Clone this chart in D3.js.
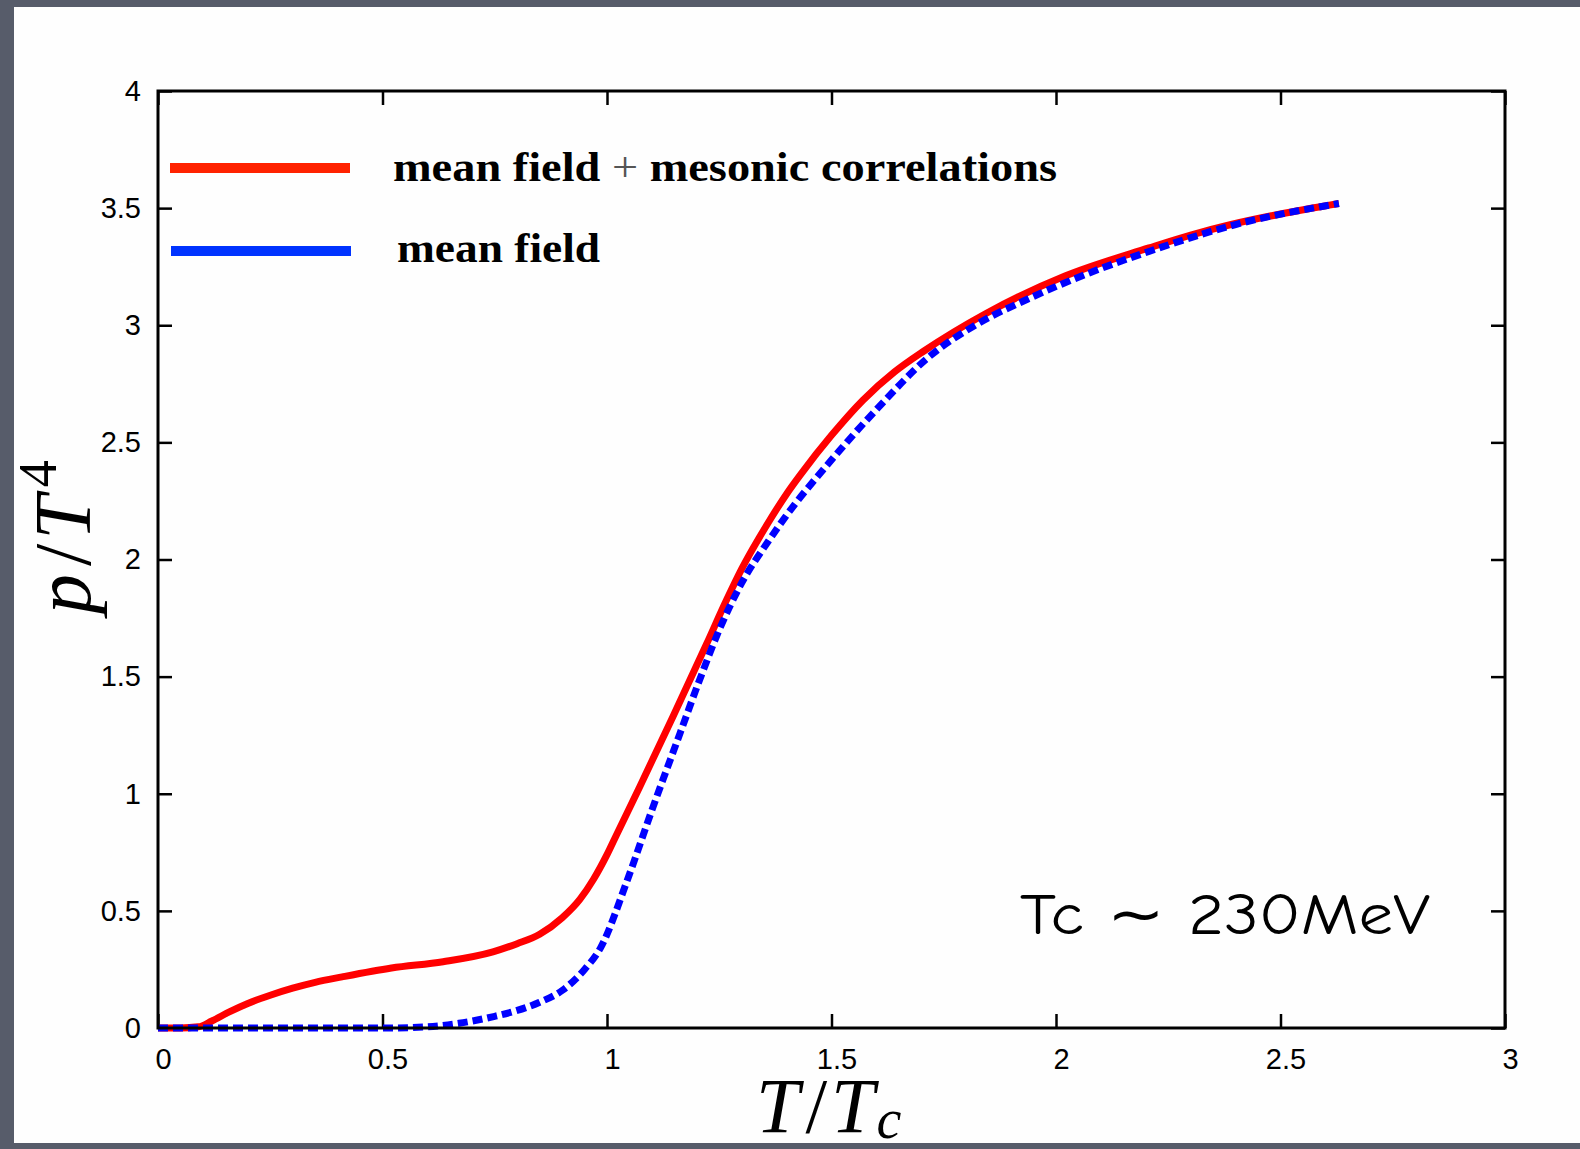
<!DOCTYPE html>
<html>
<head>
<meta charset="utf-8">
<script src="https://cdn.jsdelivr.net/npm/d3@7"></script>
<style>
  html, body { margin: 0; padding: 0; background: #575c6a; }
  svg { display: block; }
</style>
</head>
<body>
<svg id="chart" width="1580" height="1149"></svg>
<script>
// values
const xTicks = [0, 0.5, 1, 1.5, 2, 2.5, 3];
const yTicks = [0, 0.5, 1, 1.5, 2, 2.5, 3, 3.5, 4];

const fullT = [0, 0.05, 0.09, 0.12, 0.16, 0.20, 0.25, 0.30, 0.35, 0.41, 0.52, 0.635, 0.746, 0.80, 0.85, 0.90, 0.94, 0.97, 1.0, 1.02, 1.073, 1.147, 1.222, 1.267, 1.30, 1.36, 1.40, 1.434, 1.50, 1.57, 1.64, 1.706, 1.844, 2.02, 2.207, 2.30, 2.39, 2.50, 2.63];
const fullP = [0, 0, 0.005, 0.03, 0.07, 0.105, 0.14, 0.17, 0.195, 0.218, 0.256, 0.283, 0.325, 0.36, 0.40, 0.47, 0.55, 0.635, 0.74, 0.82, 1.03, 1.33, 1.64, 1.83, 1.96, 2.16, 2.28, 2.37, 2.53, 2.68, 2.80, 2.89, 3.05, 3.21, 3.33, 3.385, 3.43, 3.475, 3.52];

const mfT = [0, 0.52, 0.60, 0.67, 0.75, 0.80, 0.85, 0.90, 0.95, 0.985, 1.045, 1.10, 1.163, 1.207, 1.25, 1.30, 1.36, 1.42, 1.48, 1.60, 1.717, 1.82, 1.935, 2.07, 2.207, 2.40, 2.63];
const mfP = [0, 0, 0.005, 0.02, 0.05, 0.075, 0.11, 0.16, 0.25, 0.34, 0.63, 0.93, 1.26, 1.49, 1.70, 1.90, 2.08, 2.24, 2.38, 2.64, 2.865, 3.00, 3.11, 3.22, 3.315, 3.43, 3.52];

const legendLabels = ["mean field", "mean field"];
const annotation = "Tc \u223C 230MeV";

const svg = d3.select("#chart");
const margin = { top: 91, right: 75, bottom: 121, left: 158 };
const width = 1580 - margin.left - margin.right;
const height = 1149 - margin.top - margin.bottom;

// white slide area
svg.append("rect")
  .attr("x", 14).attr("y", 7)
  .attr("width", 1580 - 14).attr("height", 1143 - 7)
  .attr("fill", "#fefefe");

const chartArea = svg.append("g")
  .attr("transform", `translate(${margin.left},${margin.top})`);

const x = d3.scaleLinear().domain([0, 3]).range([0, width]);
const y = d3.scaleLinear().domain([0, 4]).range([height, 0]);

const tickLen = 14;
const tickFont = "'Liberation Sans', Arial, Helvetica, sans-serif";

function styleAxis(g) {
  g.select(".domain").remove();
  g.selectAll(".tick line").attr("stroke", "#000").attr("stroke-width", 2.5);
  g.selectAll(".tick text")
    .attr("fill", "#000")
    .style("font-family", tickFont)
    .style("font-size", "29px");
}

chartArea.append("g")
  .attr("transform", `translate(0,${height})`)
  .call(d3.axisBottom(x).tickValues(xTicks).tickSizeInner(-tickLen).tickSizeOuter(0).tickPadding(20).tickFormat(d3.format("")))
  .call(styleAxis)
  .selectAll(".tick text").attr("dx", 5);

chartArea.append("g")
  .call(d3.axisTop(x).tickValues(xTicks).tickSizeInner(-tickLen).tickSizeOuter(0).tickFormat(""))
  .call(styleAxis);

chartArea.append("g")
  .call(d3.axisLeft(y).tickValues(yTicks).tickSizeInner(-tickLen).tickSizeOuter(0).tickPadding(17).tickFormat(d3.format("")))
  .call(styleAxis);

chartArea.append("g")
  .attr("transform", `translate(${width},0)`)
  .call(d3.axisRight(y).tickValues(yTicks).tickSizeInner(-tickLen).tickSizeOuter(0).tickFormat(""))
  .call(styleAxis);

// curves
const line = d3.line()
  .x(d => x(d[0]))
  .y(d => y(d[1]))
  .curve(d3.curveMonotoneX);

chartArea.append("path")
  .datum(d3.zip(fullT, fullP))
  .attr("fill", "none")
  .attr("stroke", "#ff0000")
  .attr("stroke-width", 7)
  .attr("d", line);

chartArea.append("path")
  .datum(d3.zip(mfT, mfP))
  .attr("fill", "none")
  .attr("stroke", "#0000ff")
  .attr("stroke-width", 7)
  .attr("stroke-dasharray", "10,5")
  .attr("d", line);

// frame
chartArea.append("rect")
  .attr("width", width).attr("height", height)
  .attr("fill", "none")
  .attr("stroke", "#000")
  .attr("stroke-width", 3);

// legend
const legendFont = "'Liberation Serif', 'Times New Roman', serif";
const legend = svg.append("g");

legend.append("line")
  .attr("x1", 170).attr("x2", 350).attr("y1", 168).attr("y2", 168)
  .attr("stroke", "#ff2200").attr("stroke-width", 10);
legend.append("line")
  .attr("x1", 171).attr("x2", 351).attr("y1", 251).attr("y2", 251)
  .attr("stroke", "#0033ff").attr("stroke-width", 10);

const l1 = legend.append("text")
  .attr("x", 393).attr("y", 181)
  .style("font-family", legendFont)
  .style("font-size", "42px")
  .attr("fill", "#000");
l1.append("tspan").style("font-weight", "bold").text(legendLabels[0]);
l1.append("tspan").style("font-weight", "normal").attr("fill", "#555").text(" + ");
l1.append("tspan").style("font-weight", "bold").text("mesonic correlations");
l1.attr("textLength", 664).attr("lengthAdjust", "spacingAndGlyphs");

legend.append("text")
  .attr("x", 397).attr("y", 262)
  .style("font-family", legendFont)
  .style("font-size", "42px")
  .style("font-weight", "bold")
  .attr("fill", "#000")
  .attr("textLength", 203).attr("lengthAdjust", "spacingAndGlyphs")
  .text(legendLabels[1]);

// annotation
svg.append("text")
  .attr("x", 1020).attr("y", 934)
  .style("font-family", "'Comic Sans MS', 'Comic Neue', Lato, sans-serif")
  .style("font-size", "58px")
  .attr("fill", "#000")
  .attr("textLength", 410).attr("lengthAdjust", "spacingAndGlyphs")
  .text(annotation);

// axis titles
const mathFont = "'Liberation Serif', 'DejaVu Serif', serif";

const xLabel = svg.append("text")
  .attr("x", 756).attr("y", 1132)
  .style("font-family", mathFont)
  .style("font-size", "78px")
  .attr("fill", "#000");
xLabel.append("tspan").style("font-style", "italic").text("T");
xLabel.append("tspan").attr("dx", 6).text("/");
xLabel.append("tspan").attr("dx", 4).style("font-style", "italic").text("T");
xLabel.append("tspan").attr("dx", 2).attr("dy", 6).style("font-style", "italic").style("font-size", "56px").text("c");

const yLabel = svg.append("text")
  .attr("transform", "translate(90,614) rotate(-90)")
  .style("font-family", mathFont)
  .style("font-size", "80px")
  .attr("fill", "#000");
yLabel.append("tspan").style("font-style", "italic").text("p");
yLabel.append("tspan").attr("dx", 8).text("/");
yLabel.append("tspan").attr("dx", 4).style("font-style", "italic").text("T");
yLabel.append("tspan").attr("dx", 8).attr("dy", -34).style("font-size", "54px").text("4");
</script>
</body>
</html>
